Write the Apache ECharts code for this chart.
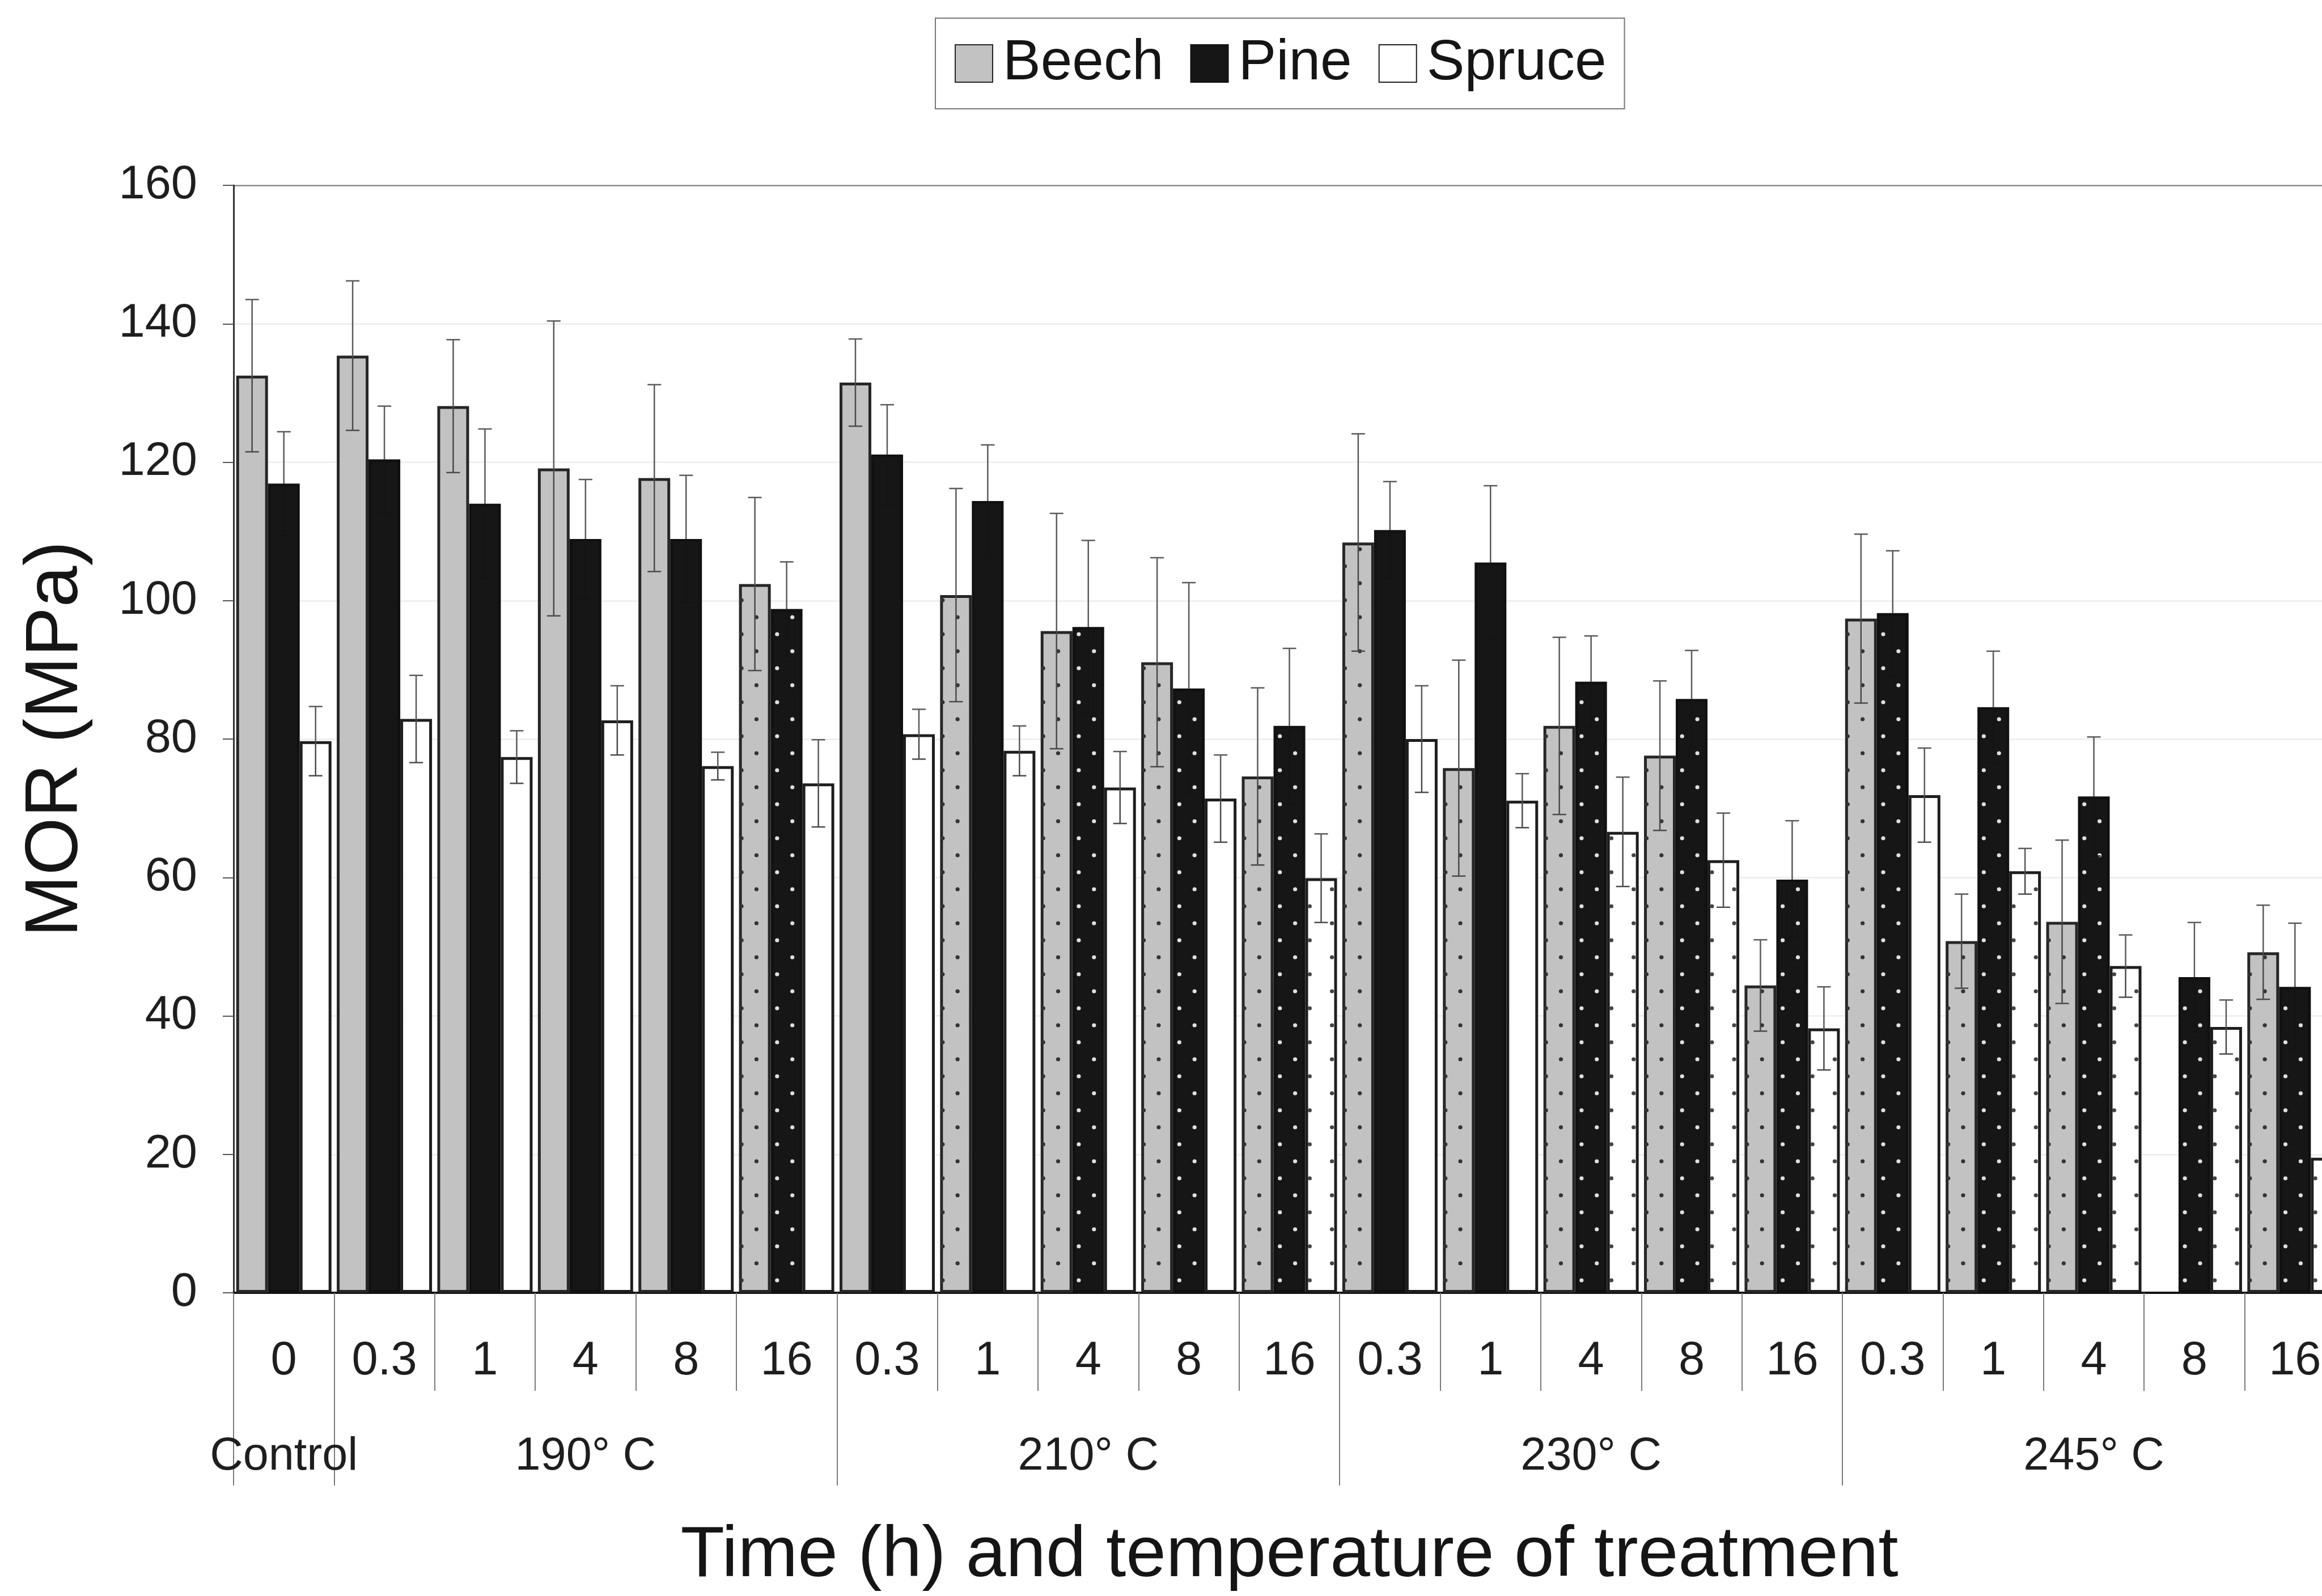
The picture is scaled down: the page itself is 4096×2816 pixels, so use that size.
<!DOCTYPE html>
<html>
<head>
<meta charset="utf-8">
<title>MOR of heat-treated wood</title>
<script src="https://cdn.jsdelivr.net/npm/echarts@6/dist/echarts.min.js"></script>
<style>
  html, body { margin: 0; padding: 0; background: #ffffff; }
  #chart { width: 4096px; height: 2816px; }
</style>
</head>
<body>
<div id="chart"></div>
<script>
// Treatment time (h) for each bar group
const timeLabels = ['0', '0.3', '1', '4', '8', '16', '0.3', '1', '4', '8', '16',
                    '0.3', '1', '4', '8', '16', '0.3', '1', '4', '8', '16'];
// Treatment temperature groups: name, first category index, category under the label
const groupNames = ['Control', '190° C', '210° C', '230° C', '245° C'];
const groupStart = [0, 1, 6, 11, 16];
const groupLabelAt = [0, 3, 8, 13, 18];

// Mean MOR (MPa) per species
const beech  = [132.5, 135.4, 128.1, 119.1, 117.7, 102.4, 131.5, 100.8, 95.6, 91.1, 74.6,
                108.4, 75.8, 81.9, 77.6, 44.4, 97.4, 50.8, 53.6, null, 49.2];
const pine   = [116.9, 120.4, 114.0, 108.9, 108.9, 98.8, 121.1, 114.4, 96.2, 87.3, 81.9,
                110.2, 105.5, 88.3, 85.8, 59.7, 98.2, 84.6, 71.7, 45.6, 44.2];
const spruce = [79.7, 82.9, 77.4, 82.7, 76.1, 73.6, 80.7, 78.3, 73.0, 71.4, 59.9,
                80.0, 71.1, 66.6, 62.5, 38.2, 71.9, 60.9, 47.2, 38.4, 19.5];

// Standard deviation (MPa)
const beechSd  = [11.0, 10.8, 9.6, 21.3, 13.5, 12.5, 6.3, 15.4, 17.0, 15.1, 12.8,
                  15.7, 15.6, 12.8, 10.8, 6.6, 12.2, 6.8, 11.8, null, 6.8];
const pineSd   = [7.5, 7.7, 10.8, 8.6, 9.2, 6.8, 7.2, 8.1, 12.5, 15.3, 11.2,
                  7.0, 11.1, 6.6, 7.0, 8.5, 9.0, 8.1, 8.6, 7.9, 9.2];
const spruceSd = [5.0, 6.3, 3.8, 5.0, 2.0, 6.3, 3.6, 3.6, 5.2, 6.3, 6.4,
                  7.7, 3.9, 7.9, 6.8, 6.0, 6.8, 3.3, 4.5, 3.9, null];

// Dotted bars (1 = dotted fill)
const beechDots  = [0, 0, 0, 0, 0, 1, 0, 1, 1, 1, 1, 1, 1, 1, 1, 1, 1, 1, 1, 0, 1];
const pineDots   = [0, 0, 0, 0, 0, 1, 0, 0, 1, 1, 1, 0, 0, 1, 1, 1, 1, 1, 1, 1, 1];
const spruceDots = [0, 0, 0, 0, 0, 0, 0, 0, 0, 0, 1, 0, 0, 1, 1, 1, 0, 1, 1, 1, 1];

const FONT = '"Liberation Sans", Arial, Helvetica, sans-serif';
const BAR_W = 56;

function barData(vals) {
  return vals.map(v => (v == null ? '-' : v));
}

// Dots and error bars drawn on top of each bar of one species.
// cols: horizontal positions (fraction of bar width) of the two staggered dot columns.
function overlaySeries(name, slot, vals, sds, dots, dotColor, lowColor, cols) {
  const data = [];
  vals.forEach((v, i) => {
    if (v != null) data.push([i, v, sds[i] == null ? 0 : sds[i], dots[i]]);
  });
  return {
    type: 'custom',
    name: name + ' overlay',
    xAxisIndex: 0,
    yAxisIndex: 0,
    z: 5,
    silent: true,
    clip: false,
    encode: { x: 0, y: 1 },
    data: data,
    renderItem: function (params, api) {
      const i = api.value(0), v = api.value(1), e = api.value(2), dotted = api.value(3);
      const dx = (slot - 1) * BAR_W;
      const pMid = api.coord([i, v]);
      const pBase = api.coord([i, 0]);
      const x = pMid[0] + dx;
      const children = [];
      if (dotted) {
        const left = x - BAR_W / 2;
        let k = 0;
        for (let y = pBase[1] - 22; y > pMid[1] + 8; y -= 30, k++) {
          const cx = left + BAR_W * cols[k % 2];
          children.push({
            type: 'circle',
            shape: { cx: cx, cy: y, r: 3.6 },
            style: { fill: dotColor }
          });
        }
      }
      if (e > 0) {
        const pTop = api.coord([i, v + e]);
        const pBot = api.coord([i, v - e]);
        const cap = 12;
        const up = { stroke: '#5a5a5a', lineWidth: 2.5 };
        const low = { stroke: lowColor, lineWidth: 2.5 };
        children.push(
          { type: 'line', shape: { x1: x, y1: pTop[1], x2: x, y2: pMid[1] }, style: up },
          { type: 'line', shape: { x1: x - cap, y1: pTop[1], x2: x + cap, y2: pTop[1] }, style: up },
          { type: 'line', shape: { x1: x, y1: pMid[1], x2: x, y2: pBot[1] }, style: low },
          { type: 'line', shape: { x1: x - cap, y1: pBot[1], x2: x + cap, y2: pBot[1] }, style: low }
        );
      }
      return { type: 'group', children: children };
    }
  };
}

const chart = echarts.init(document.getElementById('chart'), null, { renderer: 'canvas' });

const option = {
  backgroundColor: '#ffffff',
  animation: false,
  textStyle: { fontFamily: FONT },
  legend: {
    data: ['Beech', 'Pine', 'Spruce'],
    left: 1650,
    top: 32,
    orient: 'horizontal',
    icon: 'rect',
    itemWidth: 66,
    itemHeight: 66,
    itemGap: 47,
    padding: [30, 32, 30, 34],
    borderColor: '#777777',
    borderWidth: 2,
    selectedMode: false,
    textStyle: { fontSize: 100, color: '#151515', fontFamily: FONT, padding: [0, 0, 0, 13] }
  },
  // The plot runs on past the right edge of the canvas, so the last group is cut off
  grid: {
    left: 412, top: 327, bottom: 535, width: 3725,
    containLabel: false,
    outerBoundsMode: 'none'
  },
  xAxis: [
    {
      type: 'category',
      data: timeLabels,
      boundaryGap: true,
      axisLine: { show: true, lineStyle: { color: '#111111', width: 4 } },
      axisTick: { show: true, interval: 0, length: 173, lineStyle: { color: '#7a7a7a', width: 2 } },
      axisLabel: { interval: 0, margin: 80, fontSize: 83, color: '#1e1e1e', fontFamily: FONT },
      splitLine: { show: false },
      name: 'Time (h) and temperature of treatment',
      nameLocation: 'middle',
      nameGap: 401,
      nameTextStyle: { fontSize: 127, color: '#151515', fontFamily: FONT }
    },
    {
      type: 'category',
      data: timeLabels,
      position: 'bottom',
      boundaryGap: true,
      axisLine: { show: false },
      axisTick: {
        show: true,
        interval: (idx) => groupStart.indexOf(idx) >= 0,
        length: 340,
        lineStyle: { color: '#7a7a7a', width: 2 }
      },
      axisLabel: {
        interval: (idx) => groupLabelAt.indexOf(idx) >= 0,
        formatter: (val, idx) => groupNames[groupLabelAt.indexOf(idx)] || '',
        margin: 249,
        fontSize: 81,
        color: '#1e1e1e',
        fontFamily: FONT
      },
      splitLine: { show: false }
    }
  ],
  yAxis: {
    type: 'value',
    min: 0,
    max: 160,
    interval: 20,
    axisLine: { show: true, lineStyle: { color: '#333333', width: 3 } },
    axisTick: { show: true, length: 19, lineStyle: { color: '#555555', width: 2 } },
    axisLabel: { fontSize: 83, margin: 64, color: '#1e1e1e', fontFamily: FONT },
    splitLine: {
      show: true,
      lineStyle: {
        color: ['#f0f0f0', '#ececec', '#ececec', '#ececec', '#ececec', '#ececec', '#ececec', '#ececec', '#8a8a8a'],
        width: 2.5
      }
    },
    name: 'MOR (MPa)',
    nameLocation: 'middle',
    nameGap: 247,
    nameRotate: 90,
    nameTextStyle: { fontSize: 131, color: '#151515', fontFamily: FONT }
  },
  series: [
    {
      name: 'Beech', type: 'bar', barWidth: BAR_W, barGap: '0%', z: 2,
      data: barData(beech),
      itemStyle: { color: '#c2c2c2', borderColor: '#262626', borderWidth: 5 }
    },
    {
      name: 'Pine', type: 'bar', barWidth: BAR_W, barGap: '0%', z: 2,
      data: barData(pine),
      itemStyle: { color: '#161616', borderColor: '#111111', borderWidth: 5 }
    },
    {
      name: 'Spruce', type: 'bar', barWidth: BAR_W, barGap: '0%', z: 2,
      data: barData(spruce),
      itemStyle: { color: '#ffffff', borderColor: '#1e1e1e', borderWidth: 5 }
    },
    overlaySeries('Beech', 0, beech, beechSd, beechDots, '#333333', '#4a4a4a', [0.08, 0.55]),
    overlaySeries('Pine', 1, pine, pineSd, pineDots, '#e0e0e0', '#141414', [0.2, 0.68]),
    overlaySeries('Spruce', 2, spruce, spruceSd, spruceDots, '#444444', '#4a4a4a', [0.14, 0.84])
  ]
};

chart.setOption(option);
</script>
</body>
</html>
